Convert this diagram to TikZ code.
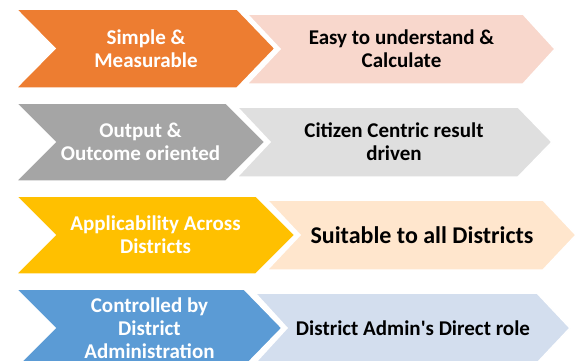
\documentclass[tikz,border=0pt]{standalone}
\usepackage{fontspec}
\setmainfont{Carlito}
\definecolor{cOrange}{HTML}{ED7D31}
\definecolor{cGray}{HTML}{A5A5A5}
\definecolor{cYellow}{HTML}{FFC000}
\definecolor{cBlue}{HTML}{5B9BD5}
\definecolor{cPink}{HTML}{F8D7CC}
\definecolor{cLGray}{HTML}{DFDFDF}
\definecolor{cPeach}{HTML}{FFE6CD}
\definecolor{cLBlue}{HTML}{D3DEEE}
\tikzset{
  chev/.style={draw=white, line width=1.5pt, line join=miter},
  lefttext/.style={text=white, font=\fontsize{21}{23}\selectfont\bfseries, align=center, inner sep=0pt},
  righttext/.style={text=black, font=\fontsize{21}{23}\selectfont\bfseries, align=center, inner sep=0pt},
  bigtext/.style={text=black, font=\fontsize{24}{26}\selectfont\bfseries, align=center, inner sep=0pt}
}
% chevron: #1 left, #2 notch, #3 top-right x, #4 tip x, #5 top, #6 bottom, #7 colour
\newcommand{\mychev}[7]{%
  \fill[#7] (#1,#5) -- (#3,#5) -- (#4,{(#5+#6)/2}) -- (#3,#6) -- (#1,#6) -- (#2,{(#5+#6)/2}) -- cycle;
  \draw[chev] (#1,#5) -- (#3,#5) -- (#4,{(#5+#6)/2}) -- (#3,#6) -- (#1,#6) -- (#2,{(#5+#6)/2}) -- cycle;
}
\begin{document}
\begin{tikzpicture}[x=1pt,y=-1pt]
\useasboundingbox (0,0) rectangle (576,360);
\clip (0,0) rectangle (576,360);
\fill[white] (0,0) rectangle (576,360);
% row 1
\mychev{247}{280}{523}{555}{14}{84}{cPink}
\mychev{16}{55}{237}{275}{9}{88}{cOrange}
\node[lefttext] (l1) at (146,48.5) {Simple \&\\Measurable};
\node[righttext] (r1) at (401.5,49) {Easy to understand \&\\Calculate};
% row 2
\mychev{237}{270}{518}{552}{107}{177}{cLGray}
\mychev{16}{55}{226}{265}{103}{181}{cGray}
\node[lefttext] (l2) at (140.5,142) {Output \&\\Outcome oriented};
\node[righttext] (r2) at (394,142) {Citizen Centric result\\driven};
% row 3
\mychev{267}{300}{543}{576}{200}{270}{cPeach}
\mychev{16}{55}{256}{295}{196}{274}{cYellow}
\node[lefttext] (l3) at (155.5,235) {Applicability Across\\Districts};
\node[bigtext] (r3) at (422,235) {Suitable to all Districts};
% row 4
\mychev{255}{287}{537}{570}{293}{363}{cLBlue}
\mychev{16}{55}{244}{282}{289}{367}{cBlue}
\node[lefttext] (l4) at (149.5,328) {Controlled by\\District\\Administration};
\node[righttext] (r4) at (413,328) {District Admin\textquotesingle s Direct role};
\end{tikzpicture}
\end{document}
